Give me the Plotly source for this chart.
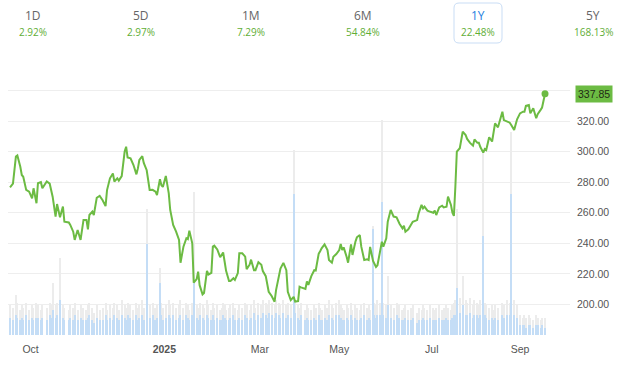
import plotly.graph_objects as go

# ---------------- data ----------------
dates = [
    "2024-09-20", "2024-09-22", "2024-09-24", "2024-09-25", "2024-09-27", "2024-09-28", "2024-09-29", "2024-10-01", "2024-10-03", "2024-10-05",
    "2024-10-06", "2024-10-08", "2024-10-09", "2024-10-11", "2024-10-12", "2024-10-15", "2024-10-17", "2024-10-18", "2024-10-19", "2024-10-21",
    "2024-10-22", "2024-10-24", "2024-10-26", "2024-10-27", "2024-10-30", "2024-10-31", "2024-11-02", "2024-11-03", "2024-11-05", "2024-11-07",
    "2024-11-09", "2024-11-11", "2024-11-12", "2024-11-13", "2024-11-15", "2024-11-16", "2024-11-18", "2024-11-20", "2024-11-22", "2024-11-24",
    "2024-11-25", "2024-11-27", "2024-11-29", "2024-11-30", "2024-12-02", "2024-12-03", "2024-12-05", "2024-12-07", "2024-12-08", "2024-12-09",
    "2024-12-11", "2024-12-13", "2024-12-15", "2024-12-16", "2024-12-17", "2024-12-19", "2024-12-20", "2024-12-22", "2024-12-24", "2024-12-26",
    "2024-12-28", "2024-12-29", "2024-12-31", "2025-01-01", "2025-01-02", "2025-01-04", "2025-01-06", "2025-01-07", "2025-01-09", "2025-01-11",
    "2025-01-13", "2025-01-14", "2025-01-16", "2025-01-18", "2025-01-19", "2025-01-20", "2025-01-22", "2025-01-23", "2025-01-25", "2025-01-26",
    "2025-01-27", "2025-01-29", "2025-01-30", "2025-02-01", "2025-02-02", "2025-02-04", "2025-02-05", "2025-02-06", "2025-02-08", "2025-02-10",
    "2025-02-11", "2025-02-12", "2025-02-13", "2025-02-14", "2025-02-16", "2025-02-17", "2025-02-19", "2025-02-20", "2025-02-22", "2025-02-23",
    "2025-02-25", "2025-02-27", "2025-02-28", "2025-03-02", "2025-03-03", "2025-03-05", "2025-03-06", "2025-03-08", "2025-03-10", "2025-03-11",
    "2025-03-13", "2025-03-14", "2025-03-15", "2025-03-17", "2025-03-19", "2025-03-20", "2025-03-22", "2025-03-23", "2025-03-25", "2025-03-27",
    "2025-03-28", "2025-03-30", "2025-04-01", "2025-04-02", "2025-04-04", "2025-04-05", "2025-04-06", "2025-04-09", "2025-04-10", "2025-04-11",
    "2025-04-13", "2025-04-15", "2025-04-16", "2025-04-18", "2025-04-19", "2025-04-20", "2025-04-22", "2025-04-24", "2025-04-25", "2025-04-27",
    "2025-04-28", "2025-04-30", "2025-05-02", "2025-05-03", "2025-05-04", "2025-05-05", "2025-05-07", "2025-05-08", "2025-05-10", "2025-05-11",
    "2025-05-13", "2025-05-14", "2025-05-16", "2025-05-17", "2025-05-19", "2025-05-21", "2025-05-22", "2025-05-23", "2025-05-25", "2025-05-26",
    "2025-05-27", "2025-05-28", "2025-05-30", "2025-05-31", "2025-06-01", "2025-06-03", "2025-06-04", "2025-06-06", "2025-06-08", "2025-06-10",
    "2025-06-12", "2025-06-14", "2025-06-15", "2025-06-16", "2025-06-18", "2025-06-20", "2025-06-21", "2025-06-24", "2025-06-25", "2025-06-27",
    "2025-06-28", "2025-06-29", "2025-07-01", "2025-07-03", "2025-07-05", "2025-07-06", "2025-07-07", "2025-07-09", "2025-07-11", "2025-07-12",
    "2025-07-14", "2025-07-15", "2025-07-17", "2025-07-18", "2025-07-19", "2025-07-20", "2025-07-21", "2025-07-23", "2025-07-25", "2025-07-27",
    "2025-07-28", "2025-07-30", "2025-08-01", "2025-08-02", "2025-08-04", "2025-08-05", "2025-08-06", "2025-08-08", "2025-08-09", "2025-08-10",
    "2025-08-12", "2025-08-14", "2025-08-15", "2025-08-16", "2025-08-18", "2025-08-21", "2025-08-22", "2025-08-24", "2025-08-26", "2025-08-27",
    "2025-08-29", "2025-08-31", "2025-09-02", "2025-09-04", "2025-09-05", "2025-09-06", "2025-09-08", "2025-09-09", "2025-09-11", "2025-09-13",
    "2025-09-14", "2025-09-16", "2025-09-17", "2025-09-19",
]

prices = [
    276.6, 279.0, 296.7, 297.5, 290.1, 284.7, 283.5, 274.9, 273.8, 269.4,
    276.0, 266.2, 279.3, 280.0, 276.0, 280.4, 279.0, 273.8, 270.5, 257.4,
    265.7, 257.0, 264.0, 254.1, 253.6, 252.0, 247.6, 242.2, 248.7, 242.2,
    255.3, 255.3, 249.1, 258.5, 260.7, 258.5, 269.8, 271.0, 268.2, 264.3,
    274.8, 282.5, 285.7, 280.4, 282.5, 281.0, 284.0, 300.0, 303.2, 296.2,
    295.6, 291.2, 285.1, 289.0, 294.5, 297.0, 292.6, 287.8, 274.9, 275.0,
    273.8, 271.6, 281.9, 278.0, 276.9, 284.1, 272.7, 261.8, 252.0, 247.6,
    242.2, 227.3, 237.8, 243.3, 242.7, 248.3, 240.0, 214.2, 216.6, 221.4,
    212.6, 206.6, 207.5, 222.0, 219.6, 220.7, 237.8, 238.5, 236.0, 230.9,
    232.4, 234.0, 228.1, 222.0, 215.3, 215.3, 217.1, 216.0, 220.5, 233.5,
    233.5, 231.3, 223.1, 226.0, 229.3, 222.4, 222.4, 227.6, 226.0, 221.8,
    218.5, 212.7, 208.3, 205.5, 201.8, 209.4, 220.7, 223.5, 227.2, 222.4,
    208.3, 202.8, 205.0, 201.8, 202.2, 211.6, 211.2, 210.1, 215.0, 212.8,
    218.5, 222.4, 222.2, 233.1, 234.8, 236.7, 239.3, 235.6, 229.1, 227.3,
    231.2, 233.0, 235.6, 239.5, 235.6, 237.3, 231.2, 227.3, 239.3, 232.4,
    241.0, 243.9, 245.4, 237.8, 229.1, 229.5, 229.1, 237.6, 228.4, 226.2,
    224.5, 225.6, 235.6, 241.0, 237.8, 243.3, 254.1, 261.8, 257.5, 257.0,
    252.8, 249.8, 251.4, 247.6, 249.2, 252.8, 254.1, 255.2, 259.6, 265.1,
    262.9, 264.0, 261.4, 260.6, 260.0, 261.4, 258.5, 263.5, 264.6, 263.5,
    264.0, 270.5, 265.1, 260.0, 257.9, 277.0, 300.0, 302.2, 313.0, 310.8,
    308.3, 305.7, 303.9, 307.9, 305.7, 305.7, 303.0, 299.3, 301.7, 301.0,
    309.4, 306.6, 312.0, 318.5, 315.9, 326.1, 320.6, 319.6, 318.9, 317.4,
    314.2, 321.1, 325.0, 326.1, 326.1, 329.9, 330.5, 325.0, 328.4, 321.8,
    324.5, 327.3, 328.8, 337.85,
]

# volume (millions), grey = taller background bars, blue = foreground bars
volume_grey = [
    12, 11, 16, 13, 10, 12, 11, 13, 10, 12,
    11, 13, 12, 10, 12, 11, 13, 12, 21, 12,
    13, 31, 12, 11, 10, 12, 11, 13, 10, 12,
    11, 10, 12, 13, 11, 9, 12, 10, 11, 13,
    10, 12, 11, 13, 12, 10, 14, 12, 11, 13,
    12, 10, 13, 11, 12, 14, 11, 51, 12, 13,
    11, 12, 27, 13, 11, 12, 14, 12, 13, 11,
    12, 14, 11, 13, 12, 10, 13, 58, 12, 11,
    13, 12, 11, 14, 12, 10, 13, 11, 12, 10,
    11, 13, 12, 10, 11, 12, 13, 11, 10, 12,
    11, 13, 12, 10, 12, 14, 11, 13, 12, 14,
    13, 12, 14, 13, 12, 14, 13, 12, 14, 12,
    13, 12, 75, 14, 12, 11, 13, 10, 12, 11,
    10, 12, 11, 13, 11, 10, 12, 11, 14, 12,
    11, 13, 14, 12, 11, 10, 12, 11, 13, 10,
    12, 11, 10, 12, 13, 11, 12, 10, 44, 13,
    12, 14, 13, 87, 13, 12, 24, 12, 11, 13,
    12, 10, 11, 12, 10, 11, 12, 9, 11, 10,
    12, 11, 10, 12, 11, 10, 11, 12, 10, 11,
    12, 11, 10, 12, 13, 14, 51, 15, 24, 14,
    13, 15, 12, 14, 13, 12, 14, 74, 13, 12,
    11, 12, 10, 12, 11, 13, 12, 14, 13, 82,
    14, 12, 8, 7, 8, 7, 8, 7, 6, 8,
    7, 6, 7, 7,
]

volume_blue = [
    7, 6, 8, 7, 6, 7, 6, 8, 6, 7,
    6, 7, 7, 6, 7, 6, 8, 7, 10, 7,
    8, 14, 7, 6, 6, 7, 6, 8, 6, 7,
    6, 6, 7, 8, 6, 5, 7, 6, 6, 8,
    6, 7, 6, 8, 7, 6, 8, 7, 6, 8,
    7, 6, 8, 6, 7, 8, 6, 37, 7, 8,
    6, 7, 21, 8, 6, 7, 8, 7, 8, 6,
    7, 8, 6, 8, 7, 6, 8, 21, 7, 6,
    8, 7, 6, 8, 7, 6, 8, 6, 7, 6,
    6, 8, 7, 6, 6, 7, 8, 6, 6, 7,
    6, 8, 7, 6, 7, 9, 6, 8, 7, 9,
    8, 7, 9, 8, 7, 9, 8, 7, 9, 7,
    8, 7, 57, 9, 7, 6, 8, 6, 7, 6,
    6, 7, 6, 8, 6, 6, 7, 6, 8, 7,
    6, 8, 8, 7, 6, 6, 7, 6, 8, 6,
    7, 6, 6, 7, 8, 6, 7, 6, 43, 8,
    7, 8, 8, 54, 8, 7, 12, 7, 6, 8,
    7, 6, 6, 7, 6, 6, 7, 5, 6, 6,
    7, 6, 6, 7, 6, 6, 6, 7, 6, 6,
    7, 6, 6, 7, 8, 8, 19, 9, 12, 8,
    8, 9, 7, 8, 8, 7, 8, 40, 8, 7,
    6, 7, 6, 7, 6, 8, 7, 8, 8, 57,
    8, 7, 4, 4, 4, 3, 4, 4, 3, 4,
    4, 3, 4, 3,
]

x_tick_dates = ["2024-10-04", "2025-01-03", "2025-03-09", "2025-05-02", "2025-07-04", "2025-09-02"]
x_tick_labels = ["Oct", "<b>2025</b>", "Mar", "May", "Jul", "Sep"]
y_tick_values = [200, 220, 240, 260, 280, 300, 320, 340]
y_tick_labels = ["200.00", "220.00", "240.00", "260.00", "280.00", "300.00", "320.00", ""]

period_labels = ["1D", "5D", "1M", "6M", "1Y", "5Y"]
period_changes = ["2.92%", "2.97%", "7.29%", "54.84%", "22.48%", "168.13%"]
selected_period = "1Y"

# ---------------- style / layout ----------------
W, H = 623, 365
ML, MR, MT, MB = 8, 53, 88, 30
PW, PH = W - ML - MR, H - MT - MB

GREEN = "#6cbb43"
BLUE_SEL = "#1e7fe0"


def px_x(px):
    return (px - ML) / PW


def px_y(py):
    return (H - MB - py) / PH


n = min(len(dates), len(prices), len(volume_grey), len(volume_blue))
dates, prices = dates[:n], prices[:n]
volume_grey, volume_blue = volume_grey[:n], volume_blue[:n]

bar_w = 86400000 * 0.75

fig = go.Figure()
fig.add_trace(go.Bar(x=dates, y=volume_grey, width=bar_w, marker=dict(color="#ececec", line=dict(width=0)),
                     yaxis="y", hoverinfo="skip"))
fig.add_trace(go.Bar(x=dates, y=volume_blue, width=bar_w, marker=dict(color="#c4ddf6", line=dict(width=0)),
                     yaxis="y", hoverinfo="skip"))
fig.add_trace(go.Scatter(x=dates, y=prices, mode="lines", line=dict(color=GREEN, width=2),
                         yaxis="y2"))
fig.add_trace(go.Scatter(x=[dates[-1]], y=[prices[-1]], mode="markers",
                         marker=dict(color=GREEN, size=7), yaxis="y2"))

annotations = []
for i, (lab, chg) in enumerate(zip(period_labels, period_changes)):
    cx = [33, 141, 251, 363, 478, 593][i]
    annotations.append(dict(xref="paper", yref="paper", x=px_x(cx), y=px_y(16), text=lab, showarrow=False,
                            xanchor="center", yanchor="middle",
                            font=dict(family="Open Sans", size=12,
                                      color=BLUE_SEL if lab == selected_period else "#666666")))
    annotations.append(dict(xref="paper", yref="paper", x=px_x(cx), y=px_y(32), text=chg, showarrow=False,
                            xanchor="center", yanchor="middle",
                            font=dict(family="Open Sans", size=10, color="#5fae36")))

annotations.append(dict(xref="paper", yref="y2", x=1, xshift=5, y=prices[-1], text=f"{prices[-1]:.2f}",
                        showarrow=False, xanchor="left", yanchor="middle", bgcolor=GREEN, borderpad=2,
                        font=dict(family="Liberation Sans", size=10.5, color="#1f2a14")))

# rounded box around the selected period
x0, x1, y0, y1 = 454, 502, 3, 43
r = 5
rx, ry = r / PW, r / PH
X0, X1, Y0, Y1 = px_x(x0), px_x(x1), px_y(y1), px_y(y0)
path = (f"M {X0+rx},{Y1} L {X1-rx},{Y1} Q {X1},{Y1} {X1},{Y1-ry} L {X1},{Y0+ry} "
        f"Q {X1},{Y0} {X1-rx},{Y0} L {X0+rx},{Y0} Q {X0},{Y0} {X0},{Y0+ry} L {X0},{Y1-ry} "
        f"Q {X0},{Y1} {X0+rx},{Y1} Z")
shapes = [dict(type="path", xref="paper", yref="paper", path=path,
               line=dict(color="#c9ddf5", width=1), fillcolor="rgba(0,0,0,0)")]

fig.update_layout(
    width=W, height=H,
    margin=dict(l=ML, r=MR, t=MT, b=MB, pad=0),
    paper_bgcolor="white", plot_bgcolor="white",
    showlegend=False,
    barmode="overlay", bargap=0,
    xaxis=dict(type="date", range=["2024-09-18 15:00", "2025-10-06"],
               tickvals=x_tick_dates, ticktext=x_tick_labels,
               showgrid=False, zeroline=False, showline=False, ticks="",
               ticklabelstandoff=6,
               tickfont=dict(family="Liberation Sans", size=10.5, color="#555555")),
    yaxis=dict(range=[0, 100], visible=False, showgrid=False, zeroline=False),
    yaxis2=dict(overlaying="y", side="right", range=[180, 341.6],
                tickvals=y_tick_values, ticktext=y_tick_labels,
                showgrid=True, gridcolor="#eeeeee", gridwidth=1, zeroline=False, showline=False,
                ticks="", ticklabelstandoff=6,
                tickfont=dict(family="Liberation Sans", size=10.5, color="#555555")),
    annotations=annotations,
    shapes=shapes,
)

fig.write_html("out.html", config={"displayModeBar": False},
               post_script="document.body.style.margin='0px';")
